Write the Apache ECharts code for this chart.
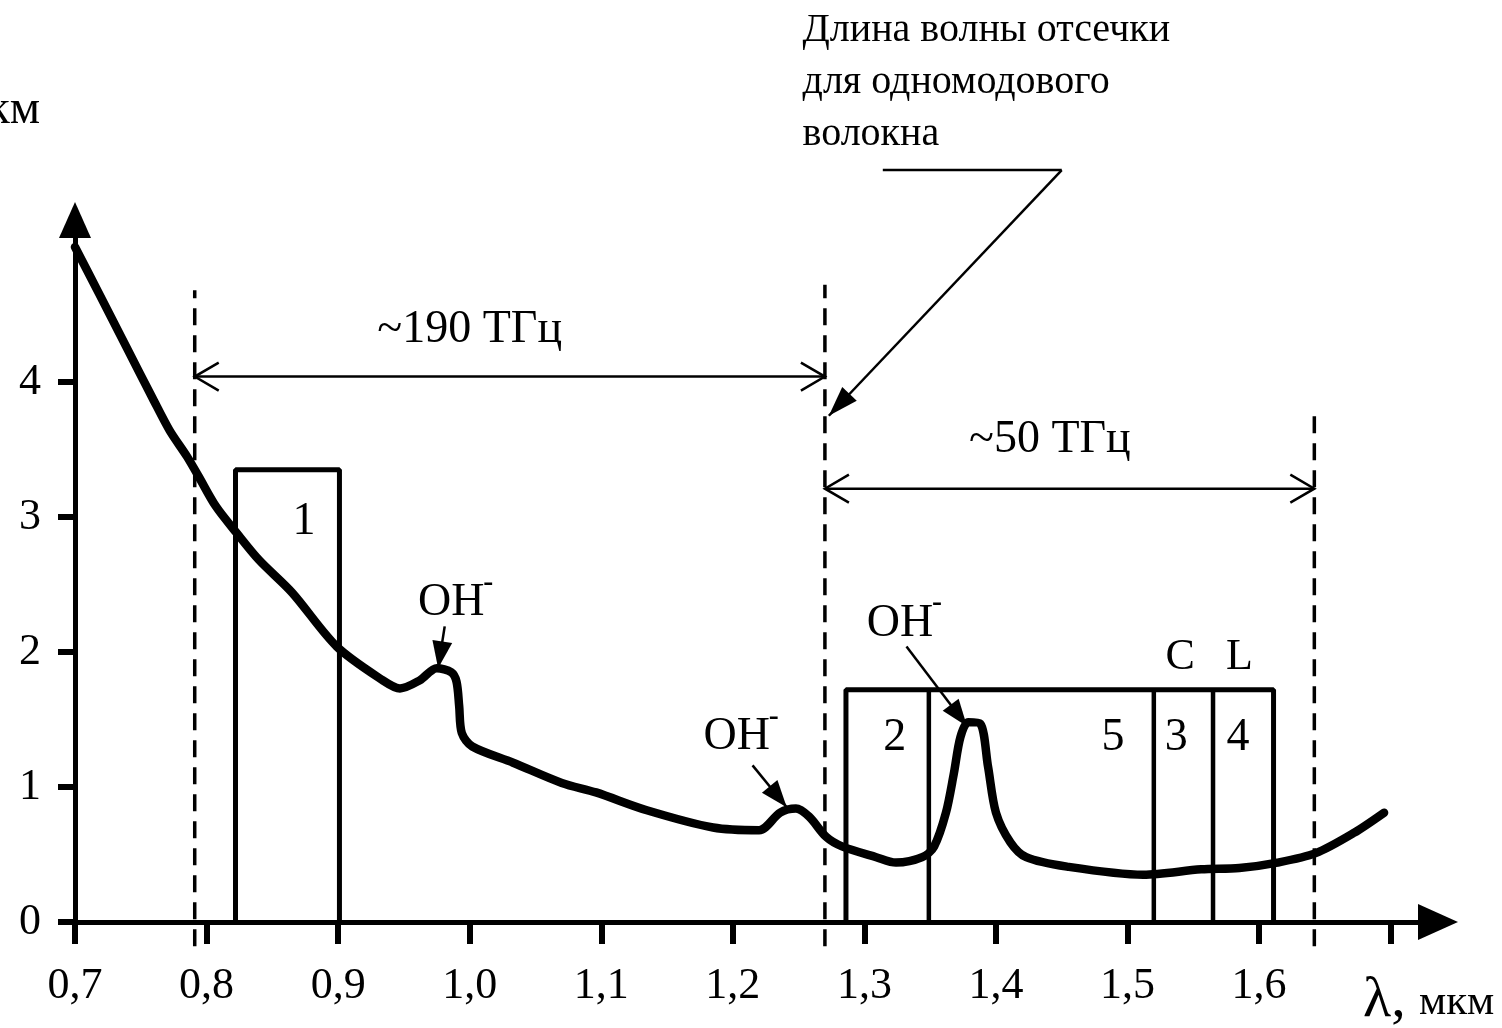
<!DOCTYPE html>
<html><head><meta charset="utf-8">
<script src="https://cdn.jsdelivr.net/npm/echarts@6/dist/echarts.min.js"></script>
<style>html,body{margin:0;padding:0;background:#fff}#c{width:1502px;height:1028px}</style>
</head><body><div id="c"></div>
<script>
const FONT = '"Liberation Serif", "DejaVu Serif", serif';

// attenuation curve: wavelength (μm) and attenuation (dB/km)
const curveX = [0.700,0.718,0.739,0.759,0.772,0.785,0.794,0.807,0.823,0.840,0.865,0.899,0.934,0.947,0.962,0.975,0.986,0.990,0.992,0.994,1.002,1.033,1.070,1.096,1.134,1.185,1.220,1.236,1.248,1.258,1.271,1.283,1.309,1.324,1.344,1.353,1.362,1.368,1.373,1.379,1.388,1.394,1.400,1.411,1.423,1.454,1.512,1.556,1.585,1.614,1.643,1.672,1.695];
const curveY = [5.00,4.66,4.26,3.88,3.64,3.45,3.30,3.08,2.88,2.68,2.44,2.04,1.79,1.73,1.79,1.88,1.85,1.78,1.60,1.40,1.30,1.18,1.03,0.96,0.83,0.70,0.68,0.81,0.84,0.78,0.63,0.56,0.48,0.44,0.48,0.56,0.81,1.10,1.37,1.48,1.47,1.15,0.81,0.59,0.48,0.41,0.35,0.39,0.40,0.44,0.51,0.66,0.81];

// axis ticks and labels
const xTicks = [0.7,0.8,0.9,1.0,1.1,1.2,1.3,1.4,1.5,1.6,1.7];
const xTickLabels = [0.7,0.8,0.9,1.0,1.1,1.2,1.3,1.4,1.5,1.6];
const yTicks = [0,1,2,3,4];

// dashed boundary lines
const cutoffX = [0.791, 1.270, 1.642];
const cutoffTop = [4.68, 4.72, 3.76];
const cutoffBottom = -0.18;

// window 1 box
const box1X = [0.822, 0.901];
const box1Top = 3.35;
const box1Label = {text:'1', x:0.874, y:2.96};

// windows 2..5 box
const bandX = [1.286, 1.611];
const bandTop = 1.72;
const bandDividers = [1.349, 1.520, 1.565];
const bandLabels = ['2','5','3','4'];
const bandLabelX = [1.323, 1.489, 1.537, 1.584];
const bandLabelY = 1.36;
const bandNames = ['C','L'];
const bandNameX = [1.540, 1.585];
const bandNameY = 1.96;

// frequency span arrows
const spanText = ['~190 ТГц', '~50 ТГц'];
const spanTextX = [1.000, 1.441];
const spanTextY = [4.385, 3.57];
const spanFrom = [0.791, 1.270];
const spanTo = [1.270, 1.642];
const spanY = [4.04, 3.21];

// OH- absorption annotations
const ohX = [0.986, 1.203, 1.327];
const ohY = [2.36, 1.37, 2.21];
const ohArrowFromX = [0.981, 1.215, 1.332];
const ohArrowFromY = [2.19, 1.16, 2.04];
const ohArrowToX = [0.976, 1.241, 1.378];
const ohArrowToY = [1.88, 0.85, 1.45];

// cutoff wavelength callout
const calloutLines = ['Длина волны отсечки', 'для одномодового', 'волокна'];
const calloutTextX = 1.253;
const calloutTextY = [6.607, 6.222, 5.837];
const calloutPathX = [1.314, 1.450, 1.273];
const calloutPathY = [5.57, 5.57, 3.75];

const chart = echarts.init(document.getElementById('c'), null, {renderer:'canvas'});

const blk = '#000';
function lineSeries(data, width, extra) {
  return Object.assign({
    type:'line', data, showSymbol:false, symbol:'none', silent:true, clip:false,
    lineStyle:{color:blk, width}, animation:false
  }, extra || {});
}

const series = [];
// dashed boundaries
cutoffX.forEach((x,i) => series.push(lineSeries([[x,cutoffBottom],[x,cutoffTop[i]]], 3.5, {lineStyle:{color:blk,width:3.5,type:[17,10]}, z:2})));
// box 1
series.push(lineSeries([[box1X[0],0],[box1X[0],box1Top],[box1X[1],box1Top],[box1X[1],0]], 5, {z:3}));
// band box
series.push(lineSeries([[bandX[0],0],[bandX[0],bandTop],[bandX[1],bandTop],[bandX[1],0]], 5, {z:3}));
bandDividers.forEach(x => series.push(lineSeries([[x,0],[x,bandTop]], 4.5, {z:3})));
// curve
series.push(lineSeries(curveX.map((x,i)=>[x,curveY[i]]), 8.5, {smooth:0.3, z:5, lineStyle:{color:blk,width:8.5,join:'round',cap:'round'}}));

const axisFont = {color:blk, fontFamily:FONT, fontSize:44};
chart.setOption({
  animation:false,
  backgroundColor:'#fff',
  grid:{left:75, right:64, top:220, bottom:106},
  xAxis:{
    type:'value', min:0.7, max:1.736, interval:0.1,
    splitLine:{show:false},
    axisLine:{onZero:false, lineStyle:{color:blk,width:5}, symbol:['none','triangle'], symbolSize:[36,40]},
    axisTick:{length:22, lineStyle:{color:blk,width:6}, customValues:xTicks},
    axisLabel:Object.assign({margin:42, customValues:xTickLabels, formatter:v=>v.toFixed(1).replace('.',',')}, axisFont)
  },
  yAxis:{
    type:'value', min:0, max:5.2, interval:1,
    splitLine:{show:false},
    axisLine:{lineStyle:{color:blk,width:5}, symbol:['none','triangle'], symbolSize:[32,36]},
    axisTick:{length:17, lineStyle:{color:blk,width:6}, customValues:yTicks},
    axisLabel:Object.assign({margin:34, customValues:yTicks, formatter:v=>String(v)}, axisFont)
  },
  series
});

const P = (x,y) => chart.convertToPixel({gridIndex:0},[x,y]);
const G = [];
function text(str, p, size, align, vAlign, extra) {
  G.push(Object.assign({type:'text', x:p[0], y:p[1], z:100, silent:true,
    style:{text:str, fontSize:size, fontFamily:FONT, fill:blk,
      textAlign:align||'center', textVerticalAlign:vAlign||'middle', align:align||'center', verticalAlign:vAlign||'middle'}}, extra||{}));
}
function seg(a,b,w) { G.push({type:'line', z:90, silent:true, shape:{x1:a[0],y1:a[1],x2:b[0],y2:b[1]}, style:{stroke:blk,lineWidth:w}}); }
function headPts(tip, from, len, half) {
  const dx=tip[0]-from[0], dy=tip[1]-from[1], L=Math.hypot(dx,dy), ux=dx/L, uy=dy/L;
  const bx=tip[0]-ux*len, by=tip[1]-uy*len;
  return [[bx-uy*half, by+ux*half],[tip[0],tip[1]],[bx+uy*half, by-ux*half]];
}
function filledArrow(from, tip, w, len, half) {
  seg(from, tip, w);
  G.push({type:'polygon', z:91, silent:true, shape:{points:headPts(tip,from,len,half)}, style:{fill:blk}});
}
function chevron(tip, from) {
  G.push({type:'polyline', z:91, silent:true, shape:{points:headPts(tip,from,24,14)}, style:{stroke:blk,lineWidth:2.5,fill:null}});
}

// span arrows
spanText.forEach((t,i) => {
  const a = P(spanFrom[i], spanY[i]), b = P(spanTo[i], spanY[i]);
  seg(a,b,2.5); chevron(a,b); chevron(b,a);
  text(t, P(spanTextX[i], spanTextY[i]), 46);
});
// box labels
text(box1Label.text, P(box1Label.x, box1Label.y), 46);
bandLabels.forEach((t,i) => text(t, P(bandLabelX[i], bandLabelY), 46));
bandNames.forEach((t,i) => text(t, P(bandNameX[i], bandNameY), 44));
// OH- labels
ohX.forEach((x,i) => {
  const p = P(x, ohY[i]);
  text('OH', p, 46);
  text('-', [p[0]+37, p[1]-20], 30, 'center', 'middle', {style:{text:'-', fontSize:30, fontFamily:FONT, fill:blk, fontWeight:'bold', textAlign:'center', textVerticalAlign:'middle', align:'center', verticalAlign:'middle'}});
  filledArrow(P(ohArrowFromX[i], ohArrowFromY[i]), P(ohArrowToX[i], ohArrowToY[i]), 2.5, 27, 10);
});
// callout
calloutLines.forEach((t,i) => text(t, P(calloutTextX, calloutTextY[i]), 40, 'left', 'middle'));
const cp = calloutPathX.map((x,i)=>P(x, calloutPathY[i]));
seg(cp[0], cp[1], 2.5);
filledArrow(cp[1], cp[2], 2.5, 30, 10);
// axis names
text('дБ/км', P(0.6735, 6.01), 48, 'right', 'middle');
text('λ,', P(1.679, -0.58), 58, 'left', 'middle');
text('мкм', P(1.7215, -0.60), 43, 'left', 'middle');

chart.setOption({graphic:{elements:G}});
</script></body></html>
